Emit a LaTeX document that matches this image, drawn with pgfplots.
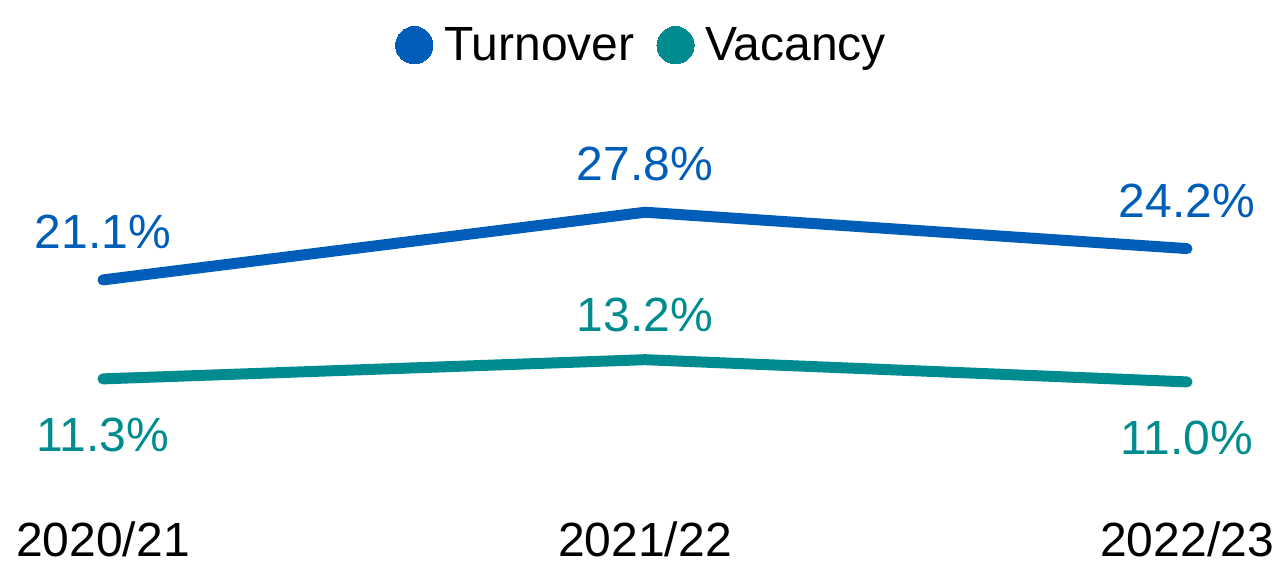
\documentclass[border=0pt]{standalone}
\usepackage{pgfplots}
\pgfplotsset{compat=1.18}
\usepackage{fontspec}
\setmainfont{Liberation Sans}
\definecolor{tblue}{HTML}{005EB8}
\definecolor{tteal}{HTML}{008C8F}
\begin{document}
\begin{tikzpicture}[x=1pt,y=1pt]
\useasboundingbox (-51.5,-35.5) rectangle (586,246.5);
\begin{axis}[
  at={(0,0)}, anchor=south west,
  scale only axis, width=542pt, height=151.5pt,
  xmin=0, xmax=2, ymin=0, ymax=30,
  clip=false,
  axis line style={draw=none},
  tick style={draw=none},
  ytick=\empty,
  xtick={0,1,2},
  xticklabels={2020/21,2021/22,2022/23},
  xticklabel style={anchor=center, yshift=-23pt, font=\fontsize{24}{28}\selectfont},
  legend columns=2,
  legend style={draw=none, fill=none, at={(rel axis cs:0.495,1.478)}, anchor=center,
    font=\fontsize{24}{28}\selectfont,
    /tikz/every even column/.append style={column sep=6pt}},
  legend image code/.code={\path (0pt,0pt) (20pt,0pt); \fill[#1, line width=0pt] (9.8pt,0pt) circle (9.3pt);},
  every node near coord/.append style={font=\fontsize{24}{28}\selectfont, anchor=center},
]
\addplot[tblue, line width=5.5pt, line cap=round, line join=round,
  nodes near coords, point meta=explicit symbolic,
  every node near coord/.append style={yshift=24pt, text=tblue}]
  coordinates {(0,21.1) [21.1\%] (1,27.8) [27.8\%] (2,24.2) [24.2\%]};
\addlegendentry{Turnover}
\addplot[tteal, line width=5.5pt, line cap=round, line join=round]
  coordinates {(0,11.3) (1,13.2) (2,11.0)};
\addlegendentry{Vacancy}
\addplot[draw=none, forget plot, nodes near coords, point meta=explicit symbolic,
  every node near coord/.append style={yshift=-28pt, text=tteal}]
  coordinates {(0,11.3) [11.3\%] (2,11.0) [11.0\%]};
\addplot[draw=none, forget plot, nodes near coords, point meta=explicit symbolic,
  every node near coord/.append style={yshift=22.5pt, text=tteal}]
  coordinates {(1,13.2) [13.2\%]};
\end{axis}
\end{tikzpicture}
\end{document}
